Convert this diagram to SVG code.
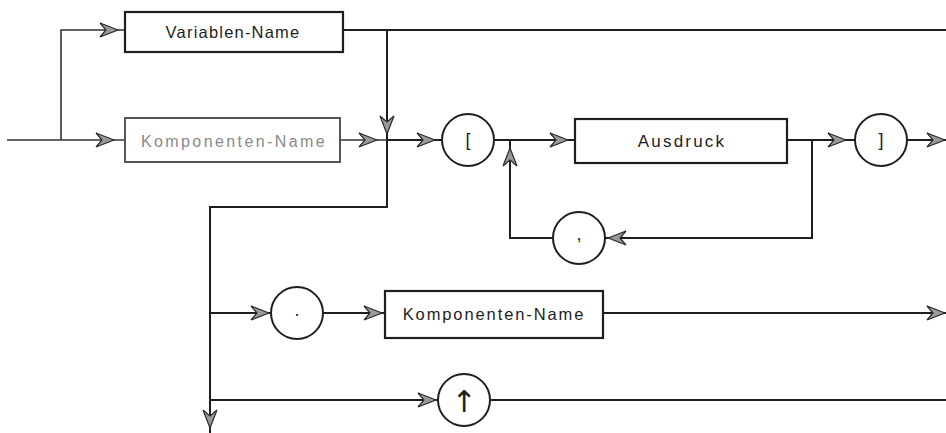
<svg xmlns="http://www.w3.org/2000/svg" width="946" height="433" viewBox="0 0 946 433">
<style>
.ln{fill:none;stroke:#1e1e1e;stroke-width:2;stroke-linejoin:miter}
.thin{stroke-width:1.6;stroke:#333}
.box{fill:#fff;stroke:#1e1e1e;stroke-width:2.2}
.fbox{fill:#fff;stroke:#555;stroke-width:2}
.cir{fill:#fff;stroke:#1e1e1e;stroke-width:2}
.t{font-family:"Liberation Sans",Arial,sans-serif;font-size:16px;fill:#1e1e1e;text-anchor:middle;dominant-baseline:central}
.ft{fill:#8a8a8a}
.ct{font-family:"Liberation Sans",Arial,sans-serif;font-size:18px;fill:#1e1e1e;text-anchor:middle;dominant-baseline:central}
.arr{font-family:"DejaVu Sans","Liberation Sans",sans-serif;font-size:30px;fill:#1e1e1e;text-anchor:middle;dominant-baseline:central}
</style>
<defs>
<path id="ah" d="M0,0 L-18,-7 L-12,0 L-18,7 Z" fill="#9a9a9a" stroke="#2a2a2a" stroke-width="1.2" stroke-linejoin="miter"/>
</defs>
<rect width="946" height="433" fill="#ffffff"/>
<g id="connectors">
<path class="ln thin" d="M7,140 H125"/>
<path class="ln thin" d="M61,140 V30 H125"/>
<path class="ln" d="M343,30 H946"/>
<path class="ln" d="M387,30 V140"/>
<path class="ln thin" d="M340,140 H387"/>
<path class="ln" d="M387,140 H442"/>
<path class="ln" d="M495,140 H575"/>
<path class="ln" d="M787,140 H855"/>
<path class="ln" d="M907,140 H946"/>
<path class="ln" d="M812,140 V238 H605"/>
<path class="ln" d="M553,238 H510 V140"/>
<path class="ln" d="M387,140 V207 H210 V433"/>
<path class="ln" d="M210,313 H271"/>
<path class="ln" d="M323,313 H385"/>
<path class="ln" d="M603,313 H946"/>
<path class="ln" d="M210,400 H437"/>
<path class="ln" d="M491,400 H946"/>
<use href="#ah" transform="translate(118,30)"/>
<use href="#ah" transform="translate(114,140)"/>
<use href="#ah" transform="translate(377,140)"/>
<use href="#ah" transform="translate(387,134) rotate(90)"/>
<use href="#ah" transform="translate(435,140)"/>
<use href="#ah" transform="translate(568,140)"/>
<use href="#ah" transform="translate(510,148) rotate(-90)"/>
<use href="#ah" transform="translate(608,238) rotate(180)"/>
<use href="#ah" transform="translate(846,140)"/>
<use href="#ah" transform="translate(945,140)"/>
<use href="#ah" transform="translate(210,428) rotate(90)"/>
<use href="#ah" transform="translate(269,313)"/>
<use href="#ah" transform="translate(382,313)"/>
<use href="#ah" transform="translate(945,313)"/>
<use href="#ah" transform="translate(436,400)"/>
</g>
<g id="variablen-name">
<rect class="box" x="125" y="12" width="218" height="40"/>
<text class="t" x="233" y="32" style="letter-spacing:1.2px;font-size:16.5px">Variablen-Name</text>
</g>
<g id="komponenten-name-1">
<rect class="fbox" x="125" y="118" width="215" height="44"/>
<text class="t ft" x="234" y="141" style="letter-spacing:2.4px">Komponenten-Name</text>
</g>
<g id="open-bracket">
<circle class="cir" cx="468" cy="140" r="26"/>
<text class="ct" x="468" y="140">[</text>
</g>
<g id="ausdruck">
<rect class="box" x="575" y="119" width="212" height="44"/>
<text class="t" x="682" y="141" style="letter-spacing:2.2px;font-size:17px">Ausdruck</text>
</g>
<g id="close-bracket">
<circle class="cir" cx="881" cy="140" r="26"/>
<text class="ct" x="881" y="140">]</text>
</g>
<g id="comma">
<circle class="cir" cx="579" cy="238" r="26"/>
<text class="ct" x="579" y="234">,</text>
</g>
<g id="dot">
<circle class="cir" cx="297" cy="313" r="26"/>
<text class="ct" x="297" y="310">.</text>
</g>
<g id="komponenten-name-2">
<rect class="box" x="385" y="291" width="218" height="47"/>
<text class="t" x="494" y="314" style="letter-spacing:1.9px;font-size:16.5px">Komponenten-Name</text>
</g>
<g id="pointer">
<circle class="cir" cx="464" cy="400" r="26"/>
<text class="arr" x="464" y="401">↑</text>
</g>
</svg>
